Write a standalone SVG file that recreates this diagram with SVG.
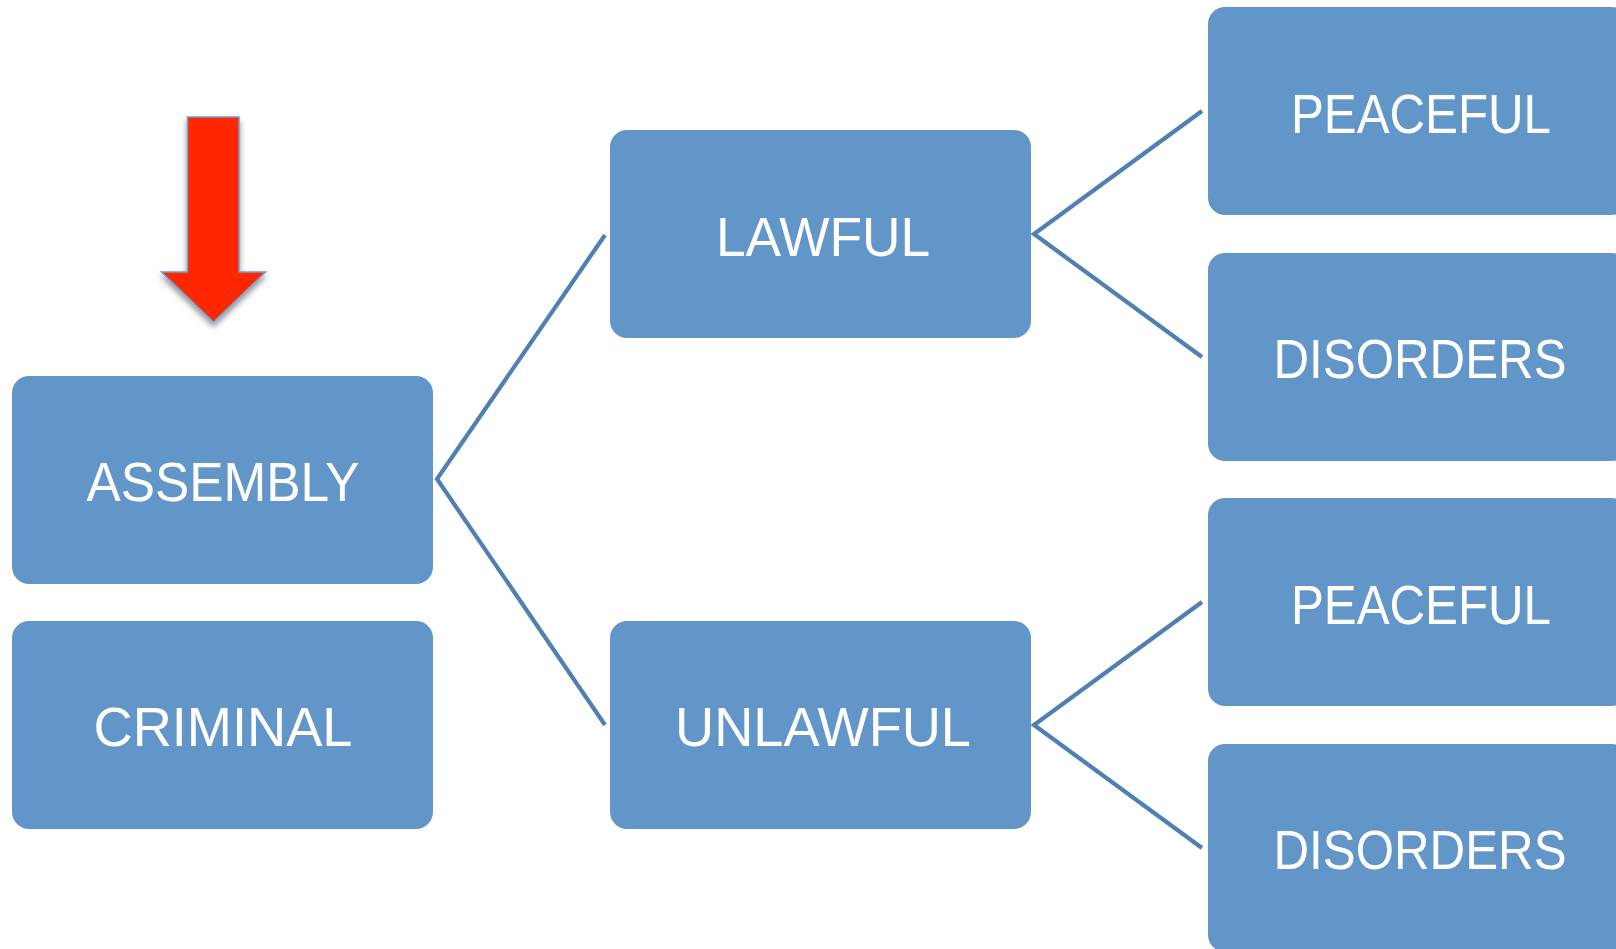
<svg xmlns="http://www.w3.org/2000/svg" width="1616" height="949" viewBox="0 0 1616 949">
  <style>
    .box { fill: #6296c9; }
    .lbl { fill: #ffffff; font-family: "Liberation Sans", Arial, sans-serif; font-size: 56px; text-anchor: middle; }
    .conn { fill: none; stroke: #4f7fb3; stroke-width: 4.2; stroke-linejoin: miter; }
  </style>
  <defs>
    <filter id="shadow" x="-30%" y="-20%" width="160%" height="150%">
      <feGaussianBlur in="SourceAlpha" stdDeviation="3"/>
      <feOffset dx="0" dy="4" result="b"/>
      <feComponentTransfer><feFuncA type="linear" slope="0.45"/></feComponentTransfer>
      <feMerge><feMergeNode/><feMergeNode in="SourceGraphic"/></feMerge>
    </filter>
  </defs>
  <rect width="1616" height="949" fill="#ffffff"/>

  <g id="connectors">
    <polyline class="conn" points="605,235 437,479 605,725"/>
    <polyline class="conn" points="1202,111 1034,234 1202,357"/>
    <polyline class="conn" points="1202,602 1034,725 1202,848"/>
  </g>

  <g id="arrow">
    <polygon points="187.5,117 239,117 239,272 265.5,272 213.5,322 161.5,272 187.5,272" fill="#ff2600" stroke="#6f9fd0" stroke-width="1.5" filter="url(#shadow)"/>
  </g>

  <g id="assembly">
    <rect class="box" x="12" y="376" width="421" height="208" rx="17"/>
    <text class="lbl" x="223" y="501" textLength="273" lengthAdjust="spacingAndGlyphs">ASSEMBLY</text>
  </g>
  <g id="criminal">
    <rect class="box" x="12" y="621" width="421" height="208" rx="17"/>
    <text class="lbl" x="223" y="746" textLength="259" lengthAdjust="spacingAndGlyphs">CRIMINAL</text>
  </g>
  <g id="lawful">
    <rect class="box" x="610" y="130" width="421" height="208" rx="17"/>
    <text class="lbl" x="823" y="256" textLength="214" lengthAdjust="spacingAndGlyphs">LAWFUL</text>
  </g>
  <g id="unlawful">
    <rect class="box" x="610" y="621" width="421" height="208" rx="17"/>
    <text class="lbl" x="823" y="746" textLength="296" lengthAdjust="spacingAndGlyphs">UNLAWFUL</text>
  </g>
  <g id="peaceful1">
    <rect class="box" x="1208" y="7" width="421" height="208" rx="17"/>
    <text class="lbl" x="1421" y="133" textLength="260" lengthAdjust="spacingAndGlyphs">PEACEFUL</text>
  </g>
  <g id="disorders1">
    <rect class="box" x="1208" y="253" width="421" height="208" rx="17"/>
    <text class="lbl" x="1420" y="378" textLength="293" lengthAdjust="spacingAndGlyphs">DISORDERS</text>
  </g>
  <g id="peaceful2">
    <rect class="box" x="1208" y="498" width="421" height="208" rx="17"/>
    <text class="lbl" x="1421" y="624" textLength="260" lengthAdjust="spacingAndGlyphs">PEACEFUL</text>
  </g>
  <g id="disorders2">
    <rect class="box" x="1208" y="744" width="421" height="208" rx="17"/>
    <text class="lbl" x="1420" y="869" textLength="293" lengthAdjust="spacingAndGlyphs">DISORDERS</text>
  </g>
</svg>
